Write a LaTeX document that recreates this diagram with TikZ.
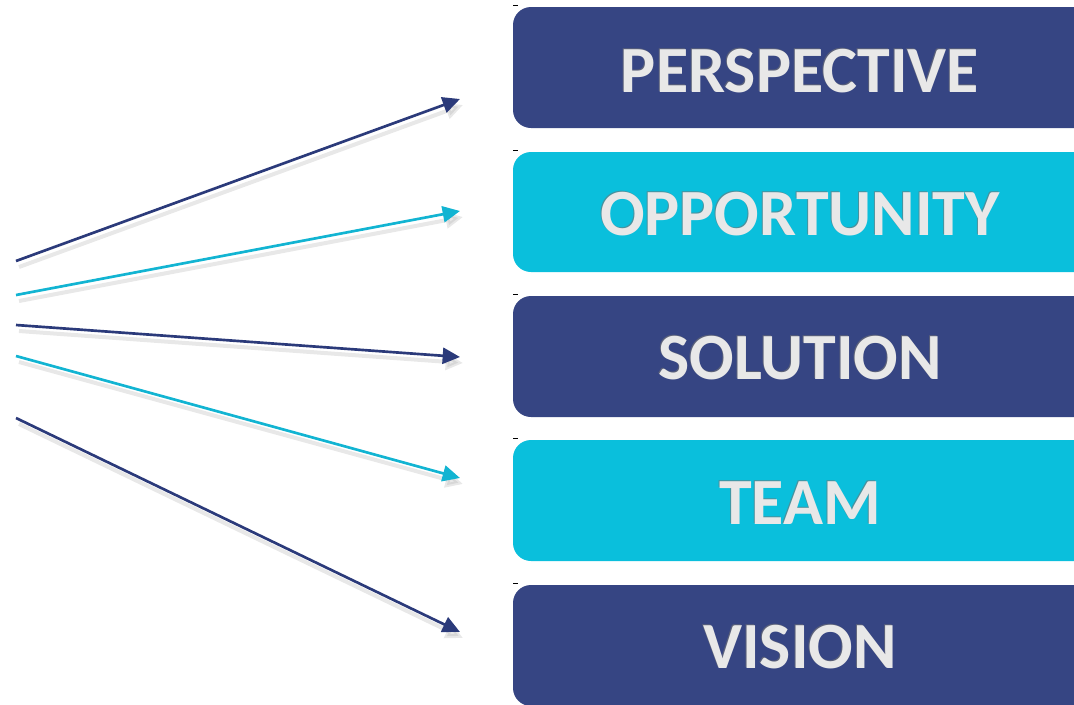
\documentclass[tikz,border=0pt]{standalone}
\usepackage{fontspec}
\setmainfont{Carlito}
\usetikzlibrary{arrows.meta}
\definecolor{navy}{HTML}{364583}
\definecolor{navyline}{HTML}{2B3A7A}
\definecolor{cyanbox}{HTML}{0ABFDC}
\definecolor{cyanline}{HTML}{12B4D2}
\definecolor{txt}{HTML}{E8E8E8}
\tikzset{
  x=0.75pt, y=-0.75pt,
  boxshape/.style={rounded corners=13.5pt},
  label/.style={font=\bfseries\fontsize{49.5}{50}\selectfont, text=txt, inner sep=0pt, anchor=center},
  labelshade/.style={font=\bfseries\fontsize{49.5}{50}\selectfont, text=black!55, opacity=0.6, inner sep=0pt, anchor=center},
  arr/.style={line width=2pt, -{Triangle[length=13pt,width=12pt]}},
  arrshadow/.style={line width=3pt, draw=black!30, opacity=0.3, -{Triangle[length=13pt,width=12pt]}},
  tick/.style={line width=0.6pt, draw=black}
}
\begin{document}
\begin{tikzpicture}
\useasboundingbox (0,0) rectangle (1074,704);
\clip (0,0) rectangle (1074,704);
% boxes
\foreach \t/\b/\c [count=\i] in {7/128/navy,152/272/cyanbox,296/417/navy,440/561/cyanbox,585/706/navy}{
  \fill[\c, boxshape] (513,\t) rectangle (1100,\b);
  \draw[tick] (513,\t-2) -- (518,\t-2);
}
\coordinate (b1) at (460,99);
\coordinate (b2) at (460,211);
\coordinate (b3) at (460,357);
\coordinate (b4) at (460,478);
\coordinate (b5) at (460,632);
\coordinate (s1) at (16,261);
\coordinate (s2) at (16,295);
\coordinate (s3) at (16,325);
\coordinate (s4) at (16,356);
\coordinate (s5) at (16,418);
% shadows
\foreach \i in {1,...,5}{
  \draw[arrshadow] ([shift={(3,6)}]s\i) -- ([shift={(3,6)}]b\i);
}
\draw[arr, navyline] (s1) -- (b1);
\draw[arr, cyanline] (s2) -- (b2);
\draw[arr, navyline] (s3) -- (b3);
\draw[arr, cyanline] (s4) -- (b4);
\draw[arr, navyline] (s5) -- (b5);
% labels
\foreach \y/\w [count=\i] in {70/PERSPECTIVE,213/OPPORTUNITY,357/SOLUTION,502/TEAM,646/VISION}{
  \node[labelshade] at (799,\y) {\w};
  \node[label] (t\i) at (800,\y+1) {\w};
}
\end{tikzpicture}
\end{document}
